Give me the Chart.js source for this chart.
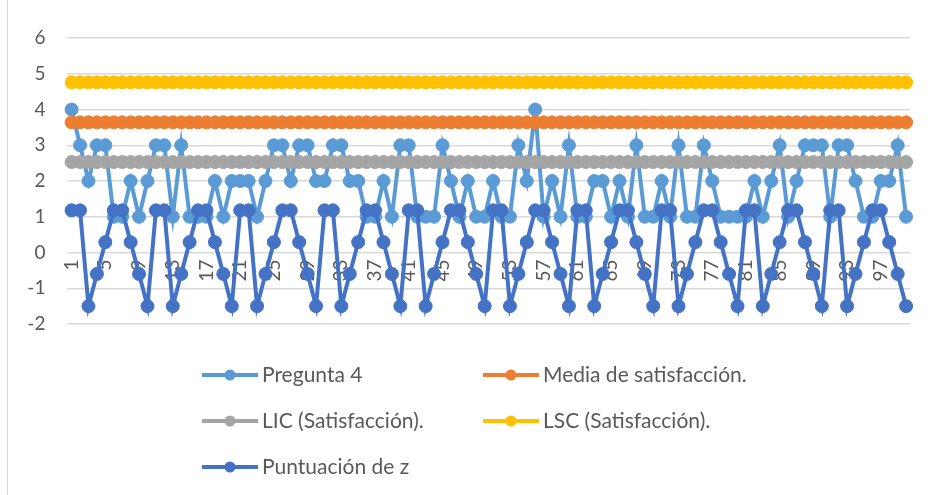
<!DOCTYPE html>
<html>
<head>
<meta charset="utf-8">
<script src="https://cdn.jsdelivr.net/npm/chart.js@4.4.1/dist/chart.umd.min.js"></script>
<style>
  html, body { margin: 0; padding: 0; background: #fff; }
  #wrap { width: 936px; height: 495px; }
</style>
</head>
<body>
<div id="wrap"><canvas id="chart" width="936" height="495"></canvas></div>
<script>
// categories 1..100, only every 4th one gets a label
const categories = Array.from({ length: 100 }, (_, i) => String(i + 1));
const xTickLabels = ['1', '5', '9', '13', '17', '21', '25', '29', '33', '37', '41', '45', '49',
  '53', '57', '61', '65', '69', '73', '77', '81', '85', '89', '93', '97'];
const yTicks = [-2, -1, 0, 1, 2, 3, 4, 5, 6];

const pregunta4 = [
  4, 3, 2, 3, 3, 1, 1, 2, 1, 2,
  3, 3, 1, 3, 1, 1, 1, 2, 1, 2,
  2, 2, 1, 2, 3, 3, 2, 3, 3, 2,
  2, 3, 3, 2, 2, 1, 1, 2, 1, 3,
  3, 1, 1, 1, 3, 2, 1, 2, 1, 1,
  2, 1, 1, 3, 2, 4, 1, 2, 1, 3,
  1, 1, 2, 2, 1, 2, 1, 3, 1, 1,
  2, 1, 3, 1, 1, 3, 2, 1, 1, 1,
  1, 2, 1, 2, 3, 1, 2, 3, 3, 3,
  1, 3, 3, 2, 1, 1, 2, 2, 3, 1
];

const puntuacionZ = [
  1.18, 1.18, -1.5, -0.6, 0.29, 1.18, 1.18, 0.29, -0.6, -1.5,
  1.18, 1.18, -1.5, -0.6, 0.29, 1.18, 1.18, 0.29, -0.6, -1.5,
  1.18, 1.18, -1.5, -0.6, 0.29, 1.18, 1.18, 0.29, -0.6, -1.5,
  1.18, 1.18, -1.5, -0.6, 0.29, 1.18, 1.18, 0.29, -0.6, -1.5,
  1.18, 1.18, -1.5, -0.6, 0.29, 1.18, 1.18, 0.29, -0.6, -1.5,
  1.18, 1.18, -1.5, -0.6, 0.29, 1.18, 1.18, 0.29, -0.6, -1.5,
  1.18, 1.18, -1.5, -0.6, 0.29, 1.18, 1.18, 0.29, -0.6, -1.5,
  1.18, 1.18, -1.5, -0.6, 0.29, 1.18, 1.18, 0.29, -0.6, -1.5,
  1.18, 1.18, -1.5, -0.6, 0.29, 1.18, 1.18, 0.29, -0.6, -1.5,
  1.18, 1.18, -1.5, -0.6, 0.29, 1.18, 1.18, 0.29, -0.6, -1.5
];

// control lines are constant across all categories
const mediaSatisfaccion = 3.64;
const licSatisfaccion = 2.53;
const lscSatisfaccion = 4.76;

const TEXT = '#595959';
const FONT = 'Lato';

function series(label, data, color, order) {
  return {
    label: label,
    data: data,
    borderColor: color,
    backgroundColor: color,
    pointBackgroundColor: color,
    pointBorderColor: color,
    borderWidth: 4,
    pointRadius: 6.5,
    pointBorderWidth: 1,
    tension: 0,
    order: order
  };
}

// draws legend in two fixed columns like the excel one
const legendCols = [202, 483];
const legendRows = [375, 421, 467];
const excelLegend = {
  id: 'excelLegend',
  afterDraw(chart) {
    const ctx = chart.ctx;
    ctx.save();
    ctx.font = '21px ' + FONT;
    ctx.textBaseline = 'middle';
    chart.data.datasets.forEach((ds, i) => {
      const x = legendCols[i % 2];
      const y = legendRows[Math.floor(i / 2)];
      ctx.strokeStyle = ds.borderColor;
      ctx.lineWidth = 4;
      ctx.beginPath();
      ctx.moveTo(x, y);
      ctx.lineTo(x + 56, y);
      ctx.stroke();
      ctx.fillStyle = ds.borderColor;
      ctx.beginPath();
      ctx.arc(x + 28, y, 5.5, 0, Math.PI * 2);
      ctx.fill();
      ctx.fillStyle = TEXT;
      ctx.fillText(ds.label, x + 60, y);
    });
    ctx.restore();
  }
};

const frame = {
  id: 'frame',
  beforeDraw(chart) {
    const ctx = chart.ctx;
    ctx.save();
    ctx.strokeStyle = '#d9d9d9';
    ctx.lineWidth = 1;
    ctx.beginPath();
    ctx.moveTo(7.5, 0);
    ctx.lineTo(7.5, chart.height);
    ctx.stroke();
    ctx.restore();
  }
};

new Chart(document.getElementById('chart'), {
  type: 'line',
  data: {
    labels: categories,
    datasets: [
      series('Pregunta 4', pregunta4, '#5B9BD5', 5),
      series('Media de satisfacción.', categories.map(() => mediaSatisfaccion), '#ED7D31', 4),
      series('LIC (Satisfacción).', categories.map(() => licSatisfaccion), '#A5A5A5', 3),
      series('LSC (Satisfacción).', categories.map(() => lscSatisfaccion), '#FFC000', 2),
      series('Puntuación de z', puntuacionZ, '#4472C4', 1)
    ]
  },
  options: {
    responsive: false,
    animation: false,
    layout: { padding: { left: 0, right: 19, top: 38, bottom: 171 } },
    plugins: {
      legend: { display: false },
      tooltip: { enabled: false }
    },
    scales: {
      x: {
        position: { y: 0 },
        offset: true,
        grid: { display: false, drawTicks: false },
        border: { display: false },
        ticks: {
          autoSkip: false,
          minRotation: 90,
          maxRotation: 90,
          padding: 7,
          color: TEXT,
          font: { family: FONT, size: 19 },
          callback: function (value) {
            const lab = this.getLabelForValue(value);
            return xTickLabels.includes(lab) ? lab : '';
          }
        }
      },
      y: {
        min: yTicks[0],
        max: yTicks[yTicks.length - 1],
        afterFit: (scale) => { scale.width = 67.4; },
        grid: { color: '#d9d9d9', lineWidth: 1.5, drawTicks: false },
        border: { display: false },
        ticks: {
          stepSize: 1,
          padding: 22,
          color: TEXT,
          font: { family: FONT, size: 19 }
        }
      }
    }
  },
  plugins: [frame, excelLegend]
});
</script>
</body>
</html>
